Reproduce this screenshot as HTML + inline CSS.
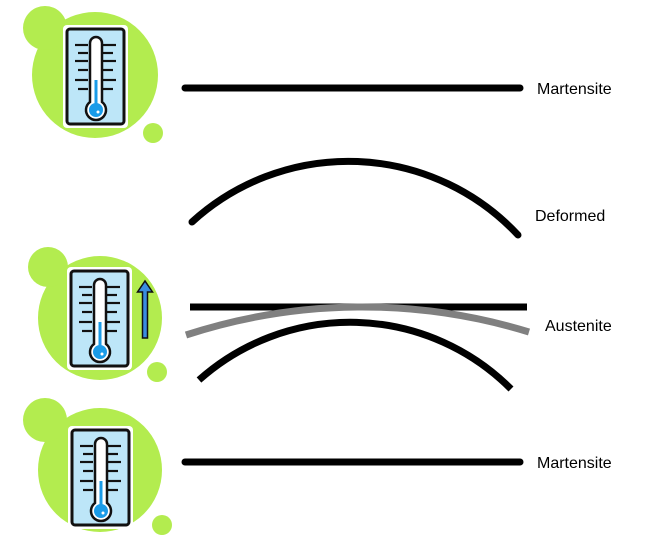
<!DOCTYPE html>
<html><head><meta charset="utf-8"><style>
html,body{margin:0;padding:0;background:#fff;width:662px;height:546px;overflow:hidden}
text{font-family:"Liberation Sans",Arial,sans-serif;font-size:16px;fill:#000}
</style></head><body>
<svg width="662" height="546" viewBox="0 0 662 546">
<defs>
<g id="thermo">
  <rect x="0" y="0" width="65" height="103" rx="4" fill="#fff"/>
  <rect x="4" y="4" width="57" height="95" rx="3" fill="#bde6f8" stroke="#111" stroke-width="3"/>
  <g stroke="#111" stroke-width="2.2">
    <line x1="12" y1="20" x2="25" y2="20"/><line x1="40" y1="20" x2="53" y2="20"/>
    <line x1="15" y1="28" x2="25" y2="28"/><line x1="40" y1="28" x2="50" y2="28"/>
    <line x1="12" y1="36" x2="25" y2="36"/><line x1="40" y1="36" x2="53" y2="36"/>
    <line x1="15" y1="45" x2="25" y2="45"/><line x1="40" y1="45" x2="50" y2="45"/>
    <line x1="12" y1="55" x2="25" y2="55"/><line x1="40" y1="55" x2="53" y2="55"/>
    <line x1="15" y1="64" x2="25" y2="64"/><line x1="40" y1="64" x2="50" y2="64"/>
  </g>
  <path d="M27,77 V18 a6,6 0 0 1 12,0 V77 a10,10 0 1 1 -12,0 Z" fill="#fff" stroke="#111" stroke-width="2.5"/>
  <circle cx="33" cy="85" r="7" fill="#1a9be8"/>
  <rect x="31.5" y="55" width="3" height="28" fill="#1a9be8"/>
  <circle cx="35" cy="87" r="1.5" fill="#fff"/>
</g>
</defs>
<g>
  <circle cx="95" cy="75" r="63" fill="#b3ec4f"/><circle cx="45" cy="28" r="22" fill="#b3ec4f"/><circle cx="153" cy="133" r="10" fill="#b3ec4f"/>
  <use href="#thermo" x="63" y="25"/>
</g>
<g>
  <circle cx="100" cy="318" r="62" fill="#b3ec4f"/><circle cx="48" cy="267" r="20" fill="#b3ec4f"/><circle cx="157" cy="372" r="10" fill="#b3ec4f"/>
  <use href="#thermo" x="67" y="267"/>
  <path d="M142.5,338 V292 h-5 l7.5,-11 l7.5,11 h-5 V338 Z" fill="#3a8de0" stroke="#111" stroke-width="1.5"/>
</g>
<g>
  <circle cx="100" cy="470" r="62" fill="#b3ec4f"/><circle cx="45" cy="420" r="22" fill="#b3ec4f"/><circle cx="162" cy="525" r="10" fill="#b3ec4f"/>
  <use href="#thermo" x="68" y="426"/>
</g>
<line x1="185" y1="88" x2="520" y2="88" stroke="#000" stroke-width="7" stroke-linecap="round"/>
<path d="M192,222 A232,232 0 0 1 518,235" fill="none" stroke="#000" stroke-width="7" stroke-linecap="round"/>
<line x1="190" y1="307" x2="527" y2="307" stroke="#000" stroke-width="7"/>
<path d="M186,335 A568,568 0 0 1 529,332" fill="none" stroke="#808080" stroke-width="7"/>
<path d="M199,380 A227,227 0 0 1 511,389" fill="none" stroke="#000" stroke-width="7"/>
<line x1="185" y1="462" x2="520" y2="462" stroke="#000" stroke-width="7" stroke-linecap="round"/>
<text x="537" y="94">Martensite</text>
<text x="535" y="221">Deformed</text>
<text x="545" y="331">Austenite</text>
<text x="537" y="468">Martensite</text>
</svg>
</body></html>
